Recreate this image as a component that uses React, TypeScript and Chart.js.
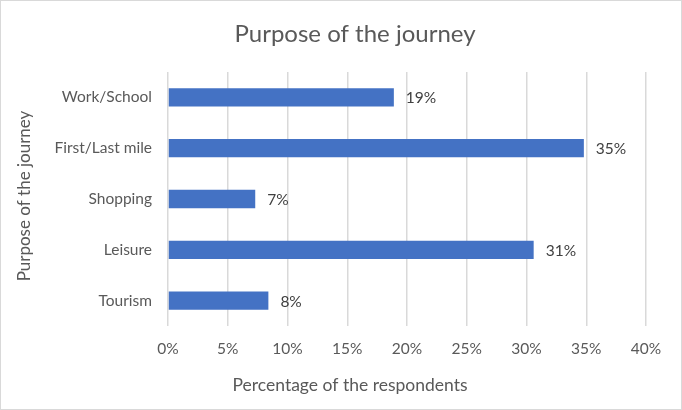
import React, { useEffect, useRef } from "react";
import { Chart, registerables } from "chart.js";

Chart.register(...registerables);

const categories = ["Work/School", "First/Last mile", "Shopping", "Leisure", "Tourism"];
const values = [18.9, 34.8, 7.3, 30.6, 8.4];
const valueLabels = ["19%", "35%", "7%", "31%", "8%"];
const xTicks = [0, 5, 10, 15, 20, 25, 30, 35, 40];
const chartTitle = "Purpose of the journey";
const xTitle = "Percentage of the respondents";
const yTitle = "Purpose of the journey";

const FONT = "Lato, 'Open Sans', sans-serif";

const labelPlugin = {
  id: "barLabels",
  afterDatasetsDraw(chart: any) {
    const ctx = chart.ctx;
    const meta = chart.getDatasetMeta(0);
    ctx.save();
    ctx.font = `15.5px ${FONT}`;
    ctx.fillStyle = "#404040";
    ctx.textAlign = "left";
    ctx.textBaseline = "middle";
    meta.data.forEach((bar: any, i: number) => {
      ctx.fillText(valueLabels[i], bar.x + 12, bar.y + 1);
    });
    ctx.restore();
  },
};

const titlesPlugin = {
  id: "titles",
  afterDraw(chart: any) {
    const ctx = chart.ctx;
    ctx.save();
    ctx.fillStyle = "#595959";
    ctx.textAlign = "center";
    ctx.textBaseline = "middle";
    ctx.font = `24px ${FONT}`;
    ctx.fillText(chartTitle, 355, 34);
    ctx.font = `17.5px ${FONT}`;
    ctx.fillText(xTitle, 350, 385);
    ctx.translate(25, 196);
    ctx.rotate(-Math.PI / 2);
    ctx.font = `17px ${FONT}`;
    ctx.fillText(yTitle, 0, 0);
    ctx.restore();
  },
};

const borderPlugin = {
  id: "frame",
  beforeDraw(chart: any) {
    const ctx = chart.ctx;
    ctx.save();
    ctx.fillStyle = "#ffffff";
    ctx.fillRect(0, 0, chart.width, chart.height);
    ctx.strokeStyle = "#d9d9d9";
    ctx.lineWidth = 1;
    ctx.strokeRect(0.5, 0.5, chart.width - 1, chart.height - 1);
    ctx.restore();
  },
};

export default function App() {
  const ref = useRef<HTMLCanvasElement>(null);
  useEffect(() => {
    document.body.style.margin = "0";
    const chart = new Chart(ref.current!, {
      type: "bar",
      data: {
        labels: categories,
        datasets: [
          {
            data: values,
            backgroundColor: "#4472C4",
            borderWidth: 0,
            barPercentage: 0.36,
            categoryPercentage: 1,
          },
        ],
      },
      options: {
        indexAxis: "y",
        animation: false,
        responsive: false,
        maintainAspectRatio: false,
        layout: { padding: { left: 0, right: 36, top: 72, bottom: 0 } },
        plugins: {
          legend: { display: false },
          tooltip: { enabled: false },
          title: { display: false },
        },
        scales: {
          x: {
            min: 0,
            max: 40,
            afterBuildTicks(scale: any) {
              scale.ticks = xTicks.map((v) => ({ value: v }));
            },
            afterFit(scale: any) {
              scale.height = 84;
            },
            ticks: {
              color: "#595959",
              font: { family: FONT, size: 15.5 },
              padding: 14,
              callback: (v: any) => v + "%",
            },
            grid: { color: "#d9d9d9", lineWidth: 1.5, drawTicks: false },
            border: { display: false },
          },
          y: {
            afterFit(scale: any) {
              scale.width = 168;
            },
            ticks: {
              color: "#595959",
              font: { family: FONT, size: 15.5 },
              padding: 16,
            },
            grid: { display: false, drawTicks: false },
            border: { display: false },
          },
        },
      },
      plugins: [borderPlugin, labelPlugin, titlesPlugin],
    });
    return () => chart.destroy();
  }, []);
  return (
    <div style={{ width: 682, height: 410 }}>
      <canvas ref={ref} width={682} height={410} style={{ display: "block" }} />
    </div>
  );
}
